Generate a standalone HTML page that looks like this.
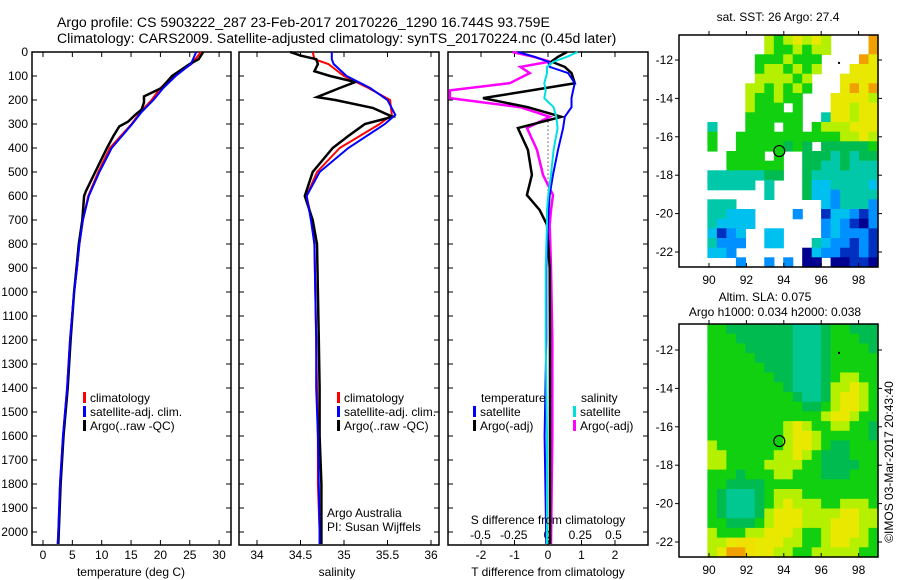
<!DOCTYPE html>
<html><head><meta charset="utf-8"><style>
body{margin:0;background:#fff;}
svg{display:block;font-family:"Liberation Sans",sans-serif;}
text{fill:#000;}
</style></head><body>
<svg id="fig" width="900" height="580" viewBox="0 0 900 580" xmlns="http://www.w3.org/2000/svg">
<text x="57" y="27" font-size="14.1">Argo profile: CS 5903222_287 23-Feb-2017 20170226_1290 16.744S 93.759E</text>
<text x="57" y="43" font-size="14.1">Climatology: CARS2009. Satellite-adjusted climatology: synTS_20170224.nc (0.45d later)</text>
<g id="g"></g>
</svg>
<script>
// ---- profile data (depth in dbar) ----
const tDepth   = [0,50,100,150,200,250,300,400,500,600,700,800,900,1000,1200,1400,1600,1800,2000,2050];
const tClim    = [26.9,25.3,22.2,20.0,18.5,16.6,15.1,11.4,9.4,7.7,6.8,6.2,5.8,5.3,4.6,4.1,3.4,2.9,2.6,2.5];
const tSat     = [26.1,25.2,22.6,20.5,18.8,16.8,15.2,11.7,9.6,7.8,6.8,6.2,5.8,5.3,4.6,4.1,3.4,2.9,2.6,2.5];
const tArgoDepth = [0,30,50,100,150,170,185,210,240,260,290,310,350,400,500,580,600,700,800,900,1000,1200,1400,1600,1800,2000,2050];
const tArgo      = [27.3,26.5,25.0,22.0,20.2,18.5,17.2,17.2,16.8,15.8,14.5,13.0,12.0,10.9,8.9,7.3,7.0,6.7,6.1,5.7,5.3,4.7,4.2,3.5,3.0,2.7,2.6];
const sDepth   = [0,30,50,100,150,200,262,300,400,500,600,700,800,1000,1200,1400,1600,1800,2000,2050];
const sClim    = [34.64,34.66,34.82,35.00,35.28,35.53,35.55,35.41,34.95,34.69,34.57,34.63,34.66,34.67,34.68,34.69,34.70,34.70,34.72,34.72];
const sSat     = [34.86,34.86,34.88,35.03,35.30,35.50,35.59,35.47,35.05,34.72,34.57,34.62,34.66,34.67,34.68,34.68,34.70,34.71,34.72,34.72];
const sArgoDepth = [0,15,30,50,80,100,125,150,188,200,233,270,300,350,400,500,600,700,800,1000,1200,1400,1600,1800,2000,2050];
const sArgo      = [34.38,34.50,34.68,34.70,34.66,34.84,35.13,34.95,34.69,34.90,35.33,35.56,35.24,35.05,34.87,34.64,34.55,34.64,34.69,34.70,34.71,34.72,34.72,34.74,34.74,34.74];
// ---- difference data ----
const dDepth    = [0,20,40,62,88,130,160,192,230,270,317,408,512,596,658,720,900,1200,1600,2050];
const dTSat     = [-0.9,-0.4,0.0,0.05,0.6,0.8,0.75,0.7,0.7,0.5,0.45,0.3,0.15,0.05,0.02,0.0,-0.05,-0.05,-0.1,-0.05];
const dTArgo    = [0.57,0.3,0.1,0.5,0.7,0.8,-0.5,-1.94,-0.6,0.4,-0.9,-0.6,-0.48,-0.63,-0.25,-0.03,0.05,0.06,0.06,0.06];
const dSSat     = [0.23,0.15,0.05,0.0,0.0,-0.02,-0.01,-0.02,0.05,0.07,0.08,0.05,0.03,0.01,0.0,0.0,-0.01,-0.01,0.0,0.0];
const dSArgo    = [-0.26,-0.1,0.02,-0.2,-0.13,-0.28,-0.73,-0.73,-0.2,0.02,-0.15,-0.075,-0.03,0.045,0.03,0.02,0.03,0.04,0.04,0.03];
const depthTicks = [0,100,200,300,400,500,600,700,800,900,1000,1100,1200,1300,1400,1500,1600,1700,1800,1900,2000];
const tTicks = [0,5,10,15,20,25,30];
const sTicks = [34,34.5,35,35.5,36];
const dTTicks = [-2,-1,0,1,2];
const dSTicks = [-0.5,-0.25,0,0.25,0.5];
const dSTickLabels = ["-0.5","-0.25","0","0.25","0.5"];
// ---- maps ----
const sstRows = [
".........LGLYLYL....O",
".........LGGLGLL....O",
"........GGGLGGG....OY",
"........GLLGLGL...YYY",
"........LLLLGL...YYYY",
".......LLGLGLG...YOYO",
".......LGGLGG...YYYYL",
".......LGGG.G...YYLYY",
".......GGGGGG..TYYLYY",
"...T...GGG.GG.GLLLYYY",
"...G..GGGGGGGGGGGLLYL",
"...G..GGGGGgGg.gggggG",
".....GGGG.G..gggTgTgg",
".....GGGGGG..ggTTgTTT",
"...TTTTTTgg..gTTTTTTT",
"...TTTTT.T...gCCTTTTC",
".........T...gCCBTTTT",
"...TTT.........CBTTTB",
"...TTCCC....B..DCCBDB",
"...TCCCC.......BCBDNB",
"...CDBC..CC....BCBBBD",
"...TBBB..CC...TCBBDBD",
"...CCB.......NCBBDDBD",
"......B..B.B.NN.NNDDN"];
const slaRows = [
"...GGgggggggtttgGGggg",
"...GGGggggggtttgGGGgg",
"...GGGGgggggtttgGGGGg",
"...GGGGGggggtttgGGGGG",
"...GGGGGGgggtttgGGGGG",
"...GGGGGGGggtttgGLLGG",
"...GGGGGGGGgtttgLLYLG",
"...GGGGGGGGGgttgLYYLG",
"...GGGGGGGGGGggGLYYLG",
"...GGGGGGGGGGGGLYYLGG",
"...GGGGGGGGLYLGGLLGGg",
"...GGGGGGGGLYYLGGGGGg",
"...LGGGGGGGLYYLGggGGG",
"...LLGGGGGLLYLGgggGGG",
"...LLGGGGLLLLGGggggGG",
"...GGGgGGGLLGGGgggGGG",
"...GGggggGGGGGGGGGGGG",
"...GgtttgGLLLGGGGGGGG",
"...GgtttgGLYLLLGGLLLG",
"...GgtttgLYYYLLLLYYLL",
"...GGgggGLYYYLLLYYYLL",
"...LGGGLLYYYLGGLYYYLG",
"...LLYyyYYYLLGGLYYLLG",
"...LYOOyYYLLGGLLLLLGG"];
const argoLon = 93.759, argoLat = -16.744;
const lonTicks = [90,92,94,96,98];
const latTicks = [-12,-14,-16,-18,-20,-22];

const NS="http://www.w3.org/2000/svg";
const G=document.getElementById('g');
function mk(tag,attrs,parent){const e=document.createElementNS(NS,tag);for(const k in attrs)e.setAttribute(k,attrs[k]);(parent||G).appendChild(e);return e;}
function txt(x,y,s,size,anchor,parent){const e=mk('text',{x:x,y:y,'font-size':size||12,'text-anchor':anchor||'start'},parent);e.textContent=s;return e;}

const yTop=52, yBot=545;
const yD=d=>yTop+d*0.24;
const xT=v=>43+v*5.87;
const xS=v=>257+(v-34)*87;
const xDT=v=>548+v*33.5;
const xDS=v=>547+v*133;

function panel(x0,x1,name){
  const r=mk('rect',{x:x0,y:yTop,width:x1-x0,height:yBot-yTop,fill:'none',stroke:'#000','stroke-width':1.5});
  
  
  depthTicks.forEach(d=>{
    mk('line',{x1:x0,x2:x0+5,y1:yD(d),y2:yD(d),stroke:'#000'});
    mk('line',{x1:x1-5,x2:x1,y1:yD(d),y2:yD(d),stroke:'#000'});
  });
}
function line(xs,ds,xf,color,name,w){
  const p=xs.map((v,i)=>xf(v).toFixed(1)+','+yD(ds[i]).toFixed(1)).join(' ');
  const e=mk('polyline',{points:p,fill:'none',stroke:color,'stroke-width':w||2});
  
  
}
function xticks(ticks,xf,labels,ly){
  ticks.forEach((t,i)=>{
    mk('line',{x1:xf(t),x2:xf(t),y1:yBot,y2:yBot-5,stroke:'#000'});
    mk('line',{x1:xf(t),x2:xf(t),y1:yTop,y2:yTop+5,stroke:'#000'});
    const e=txt(xf(t),ly,labels?labels[i]:String(t),12,'middle');
    
    
  });
}
depthTicks.forEach(d=>{
  const e=txt(28,yD(d)+4,String(d),12,'end');
  
  
});
// Panel 1 temperature
panel(32,231,'temperature-panel');
xticks(tTicks,xT,null,559);
line(tClim,tDepth,xT,'#ff0000','temp-climatology-line');
line(tArgo,tArgoDepth,xT,'#000','temp-argo-line',2.5);
line(tSat,tDepth,xT,'#0000ff','temp-satellite-line');
txt(131,576,'temperature (deg C)',12,'middle');
// Panel 2 salinity
panel(239,439,'salinity-panel');
xticks(sTicks,xS,null,559);
line(sClim,sDepth,xS,'#ff0000','sal-climatology-line');
line(sArgo,sArgoDepth,xS,'#000','sal-argo-line',2.5);
line(sSat,sDepth,xS,'#0000ff','sal-satellite-line');
txt(337,576,'salinity',12,'middle');
txt(327,517,'Argo Australia',12);
txt(327,531,'PI: Susan Wijffels',12);
function legend(x,y,color,label,name){
  mk('rect',{x:x,y:y-10,width:3,height:11,fill:color});
  const e=txt(x+7,y,label,12);
  
  
}
legend(83,402,'#ff0000','climatology','legend-climatology');
legend(83,416,'#0000ff','satellite-adj. clim.','legend-satellite-adj');
legend(83,430,'#000','Argo(..raw -QC)','legend-argo');
legend(337,402,'#ff0000','climatology','legend2-climatology');
legend(337,416,'#0000ff','satellite-adj. clim.','legend2-satellite-adj');
legend(337,430,'#000','Argo(..raw -QC)','legend2-argo');
// Panel 3 difference
panel(448,648,'difference-panel');
dTTicks.forEach(t=>{
  mk('line',{x1:xDT(t),x2:xDT(t),y1:yBot,y2:yBot-5,stroke:'#000'});
  mk('line',{x1:xDT(t),x2:xDT(t),y1:yTop,y2:yTop+5,stroke:'#000'});
  const e=txt(xDT(t),559,String(t),12,'middle');
  
});
dSTicks.forEach((t,i)=>{
  const e=txt(xDS(t),539,dSTickLabels[i],12,'middle');
  
});
mk('line',{x1:xDT(0),x2:xDT(0),y1:yD(290),y2:yD(600),stroke:'#000','stroke-dasharray':'1,3'});
line(dSArgo,dDepth,xDS,'#ff00ff','s-diff-argo-line',2.5);
line(dTArgo,dDepth,xDT,'#000','t-diff-argo-line',2.5);
line(dTSat,dDepth,xDT,'#0000ff','t-diff-satellite-line');
line(dSSat,dDepth,xDS,'#00e0e0','s-diff-satellite-line');
txt(548,524,'S difference from climatology',12,'middle');
txt(548,576,'T difference from climatology',12,'middle');
txt(481,402,'temperature',12);
txt(581,402,'salinity',12);
legend(473,416,'#0000ff','satellite','legend3-t-satellite');
legend(473,430,'#000','Argo(-adj)','legend3-t-argo');
legend(573,416,'#00e0e0','satellite','legend3-s-satellite');
legend(573,430,'#ff00ff','Argo(-adj)','legend3-s-argo');
// maps
const pal={L:'#b4f000',Y:'#e8e800',y:'#f0e000',O:'#f0a000',G:'#10d010',g:'#00bc50',t:'#00c890',T:'#00c8a8',C:'#00c0f0',B:'#0090ff',D:'#0030c0',N:'#000090'};
function drawMap(rows,bx0,by0,bx1,by1,lat12y,name){
  const mg=mk('g',{});
  
  
  const cw=(bx1-bx0)/21, ch=(by1-by0)/24;
  rows.forEach((r,ri)=>{for(let ci=0;ci<r.length;ci++){const c=r[ci];if(c==='.')continue;
    const e=mk('rect',{x:(bx0+ci*cw).toFixed(1),y:(by0+ri*ch).toFixed(1),width:(cw+0.6).toFixed(1),height:(ch+0.6).toFixed(1),fill:pal[c]},mg);
    
    }});
  const xl=l=>709+(l-90)*18.7, yl=l=>lat12y+(-12-l)*19.2;
  mk('rect',{x:bx0,y:by0,width:bx1-bx0,height:by1-by0,fill:'none',stroke:'#000','stroke-width':1.5},mg);
  lonTicks.forEach(l=>{mk('line',{x1:xl(l),x2:xl(l),y1:by0,y2:by0-4,stroke:'#000'},mg);mk('line',{x1:xl(l),x2:xl(l),y1:by1,y2:by1-4,stroke:'#000'},mg);
    txt(xl(l),by1+17,String(l),12,'middle',mg);});
  latTicks.forEach(l=>{mk('line',{x1:bx0,x2:bx0-4,y1:yl(l),y2:yl(l),stroke:'#000'},mg);mk('line',{x1:bx1,x2:bx1+4,y1:yl(l),y2:yl(l),stroke:'#000'},mg);
    txt(bx0-6,yl(l)+4,String(l),12,'end',mg);});
  const c=mk('circle',{cx:xl(argoLon),cy:yl(argoLat),r:5.5,fill:'none',stroke:'#000','stroke-width':1.2},mg);
  
  
  mk('rect',{x:xl(96.9),y:yl(-12.1),width:2,height:2,fill:'#000'},mg);
}
drawMap(sstRows,679,35,878,267,60,'sst-map');
drawMap(slaRows,679,324,878,557,350,'sla-map');
txt(778,21,'sat. SST: 26 Argo: 27.4',12,'middle');
txt(765,301,'Altim. SLA: 0.075',12,'middle');
txt(775,316,'Argo h1000: 0.034 h2000: 0.038',12,'middle');
const cp=txt(0,0,'©IMOS 03-Mar-2017 20:43:40',12,'middle');
cp.setAttribute('transform','translate(893,462) rotate(-90)');


</script>
</body></html>
